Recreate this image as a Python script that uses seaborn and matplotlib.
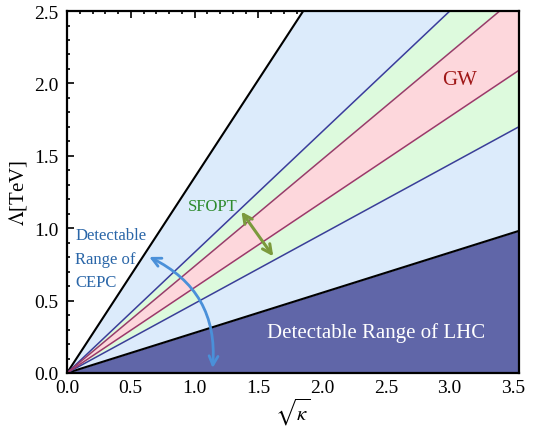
import numpy as np
import pandas as pd
import seaborn as sns
import matplotlib.pyplot as plt
from matplotlib.patches import FancyArrowPatch
from matplotlib.ticker import MultipleLocator, FormatStrFormatter

# sqrt(kappa) range and boundary slopes (Lambda = slope * sqrt(kappa))
sqrt_kappa = [0.0, 3.545]
slope_cepc = 1.35
slope_sfopt = [0.833, 0.48]
slope_gw = [0.737, 0.59]
slope_lhc = 0.277

# arrow end points (sqrt(kappa), Lambda)
sfopt_arrow = [(1.355, 1.13), (1.63, 0.79)]
cepc_arrow = [(0.625, 0.81), (1.14, 0.015)]

sns.set_style("ticks", {'axes.edgecolor': 'black', 'text.color': 'black',
                        'axes.labelcolor': 'black', 'xtick.color': 'black',
                        'ytick.color': 'black'})
plt.rcParams['font.family'] = ['Liberation Serif', 'DejaVu Serif']
plt.rcParams['mathtext.fontset'] = 'stix'

fig = plt.figure(figsize=(5.47, 4.31), dpi=100)
ax = fig.add_axes([0.1225, 0.1323, 0.8265, 0.8397])

x = np.array(sqrt_kappa)

# shaded bands
ax.fill_between(x, 0, slope_lhc * x, color='#6066a8', lw=0, zorder=1)
ax.fill_between(x, slope_lhc * x, slope_cepc * x, color='#dcebfb', lw=0, zorder=1)
ax.fill_between(x, slope_sfopt[1] * x, slope_sfopt[0] * x, color='#ddfadd', lw=0, zorder=1)
ax.fill_between(x, slope_gw[1] * x, slope_gw[0] * x, color='#fdd7dc', lw=0, zorder=1)

# boundary lines
def draw_line(slope, color, lw):
    df = pd.DataFrame({'x': x, 'y': slope * x})
    sns.lineplot(data=df, x='x', y='y', color=color, lw=lw, ax=ax, zorder=3)

draw_line(slope_cepc, 'black', 1.5)
draw_line(slope_lhc, 'black', 1.5)
for s in slope_sfopt:
    draw_line(s, '#3a3d9a', 1.1)
for s in slope_gw:
    draw_line(s, '#9a3a6a', 1.1)

# arrows
ax.add_patch(FancyArrowPatch(sfopt_arrow[0], sfopt_arrow[1], arrowstyle='<->',
                             mutation_scale=16, lw=2.2, color='#7b9a3c', zorder=5))
ax.add_patch(FancyArrowPatch(cepc_arrow[0], cepc_arrow[1], arrowstyle='<->',
                             connectionstyle='arc3,rad=-0.35',
                             mutation_scale=16, lw=2.0, color='#4a90d9', zorder=5))

# labels
ax.text(3.08, 2.03, 'GW', color='#a01818', fontsize=15, ha='center', va='center', zorder=6)
ax.text(1.145, 1.15, 'SFOPT', color='#2e8b2e', fontsize=12, ha='center', va='center', zorder=6)
ax.text(0.063, 0.79, 'Detectable\nRange of\nCEPC', color='#2a66a8', fontsize=12,
        ha='left', va='center', linespacing=1.6, zorder=6)
ax.text(2.42, 0.28, 'Detectable Range of LHC', color='white', fontsize=15,
        ha='center', va='center', zorder=6)

ax.set_xlim(sqrt_kappa[0], sqrt_kappa[1])
ax.set_ylim(0, 2.5)
ax.set_xlabel(r'$\sqrt{\kappa}$', fontsize=15, labelpad=0)
ax.set_ylabel(r'$\Lambda$[TeV]', fontsize=15)

ax.xaxis.set_major_locator(MultipleLocator(0.5))
ax.xaxis.set_minor_locator(MultipleLocator(0.1))
ax.yaxis.set_major_locator(MultipleLocator(0.5))
ax.yaxis.set_minor_locator(MultipleLocator(0.1))
ax.xaxis.set_major_formatter(FormatStrFormatter('%.1f'))
ax.yaxis.set_major_formatter(FormatStrFormatter('%.1f'))
ax.tick_params(which='both', direction='in', top=True, right=True, labelsize=14, width=1.2,
               color='black', labelcolor='black')
ax.tick_params(which='major', length=5)
ax.tick_params(axis='x', which='major', pad=4)
ax.tick_params(axis='y', which='major', pad=6)
ax.tick_params(which='minor', length=2.5)
for sp in ax.spines.values():
    sp.set_linewidth(1.6)
    sp.set_color('black')
    sp.set_zorder(10)

fig.savefig('out.png', dpi=100)
